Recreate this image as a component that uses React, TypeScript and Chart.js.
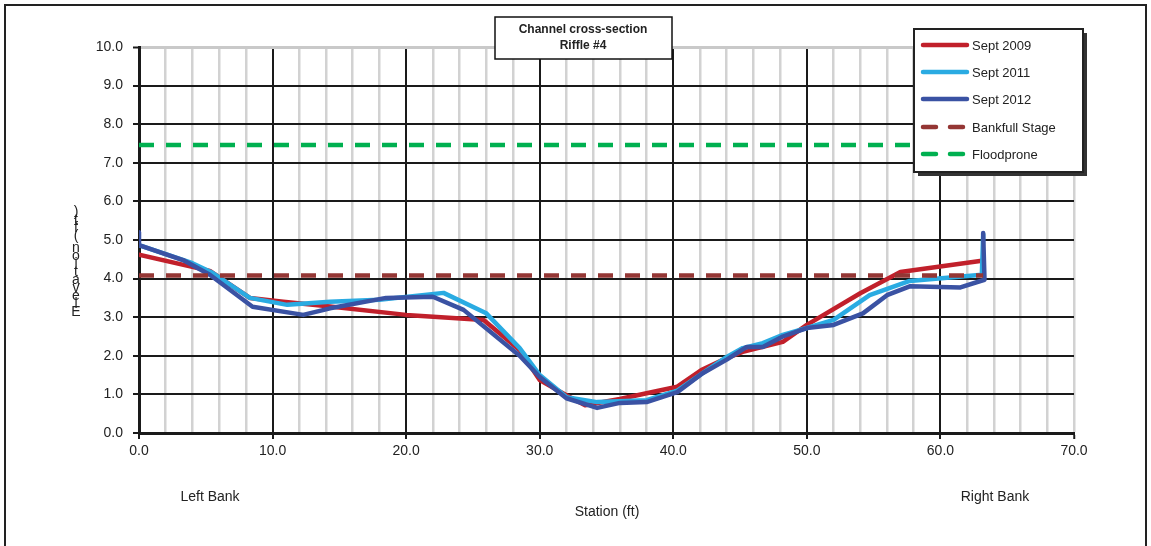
import React, { useEffect, useRef } from "react";
import { Chart, registerables } from "chart.js";

Chart.register(...registerables);

const seriesLabels = ["Sept 2009", "Sept 2011", "Sept 2012", "Bankfull Stage", "Floodprone"];

const station2009 = [0, 5.3, 8.3, 10.8, 14.3, 20, 25.8, 28.5, 30, 32, 33.4, 36, 38, 40.3, 42.1, 44, 45.2, 46.7, 48.2, 50, 54, 57, 63.1];
const elev2009 = [4.62, 4.2, 3.5, 3.4, 3.28, 3.06, 2.93, 2.15, 1.37, 0.98, 0.72, 0.88, 1.03, 1.2, 1.63, 1.94, 2.1, 2.23, 2.36, 2.8, 3.62, 4.17, 4.46];

const station2011 = [0, 4, 5.5, 8.3, 11.1, 14.3, 18, 22.8, 26, 28.5, 30, 32, 34.3, 38, 40.3, 42.2, 44, 45.2, 46.7, 48.2, 50, 52, 54.7, 57.7, 63.1, 63.2];
const elev2011 = [4.87, 4.4, 4.15, 3.5, 3.32, 3.4, 3.45, 3.63, 3.1, 2.2, 1.5, 0.93, 0.8, 0.85, 1.1, 1.55, 1.97, 2.2, 2.33, 2.54, 2.72, 2.93, 3.57, 3.94, 4.1, 5.15];

const station2012 = [0, 0, 3.3, 5.3, 8.5, 12.3, 14.3, 18.5, 22, 24.3, 28.5, 30, 32, 34.3, 36, 38, 40.3, 42.2, 44, 45.5, 46.7, 48.2, 50, 52, 54.2, 56, 57.7, 61.5, 63.3, 63.2];
const elev2012 = [5.2, 4.87, 4.48, 4.1, 3.27, 3.06, 3.23, 3.5, 3.53, 3.19, 2.0, 1.45, 0.9, 0.65, 0.78, 0.8, 1.06, 1.55, 1.9, 2.23, 2.23, 2.5, 2.72, 2.8, 3.1, 3.57, 3.8, 3.77, 3.97, 5.18];

const bankfullStation = [0, 63.2];
const bankfullElev = [4.08, 4.08];
const floodStation = [0, 63.2];
const floodElev = [7.46, 7.46];

const titleLines = ["Channel cross-section", "Riffle #4"];
const xAxisTitle = "Station (ft)";
const yAxisTitle = "Elevation (ft)";
const leftBankLabel = "Left Bank";
const rightBankLabel = "Right Bank";

const colors = ["#C1202B", "#2AABE2", "#3A52A3", "#943634", "#00B050"];

const FONT = "'Liberation Sans', Arial, sans-serif";

function pts(xs: number[], ys: number[]) {
  return xs.map((x, i) => ({ x, y: ys[i] }));
}

const extrasPlugin = {
  id: "extras",
  afterDraw(chart: any) {
    const ctx = chart.ctx as CanvasRenderingContext2D;
    ctx.save();
    // outer border
    ctx.strokeStyle = "#222";
    ctx.lineWidth = 2;
    ctx.strokeRect(5, 5, 1141, 560);

    // title box
    ctx.fillStyle = "#fff";
    ctx.fillRect(495, 17, 177, 42);
    ctx.strokeStyle = "#111";
    ctx.lineWidth = 1.5;
    ctx.strokeRect(495, 17, 177, 42);
    ctx.fillStyle = "#222";
    ctx.font = `bold 12px ${FONT}`;
    ctx.textAlign = "center";
    ctx.textBaseline = "middle";
    ctx.fillText(titleLines[0], 583, 30);
    ctx.fillText(titleLines[1], 583, 46);

    // legend
    const lx = 914, ly = 29, lw = 169, lh = 143;
    ctx.fillStyle = "#333";
    ctx.fillRect(lx + 4, ly + 4, lw, lh);
    ctx.fillStyle = "#fff";
    ctx.fillRect(lx, ly, lw, lh);
    ctx.strokeStyle = "#222";
    ctx.lineWidth = 2;
    ctx.strokeRect(lx, ly, lw, lh);
    const rows = [45, 72, 99, 127, 154];
    ctx.font = `13px ${FONT}`;
    ctx.textAlign = "left";
    seriesLabels.forEach((lab, i) => {
      ctx.strokeStyle = colors[i];
      ctx.lineWidth = 4.5;
      ctx.lineCap = "round";
      if (i >= 3) ctx.setLineDash([13, 14]);
      else ctx.setLineDash([]);
      ctx.beginPath();
      ctx.moveTo(923, rows[i]);
      ctx.lineTo(967, rows[i]);
      ctx.stroke();
      ctx.setLineDash([]);
      ctx.fillStyle = "#222";
      ctx.fillText(lab, 972, rows[i] + 1);
    });

    // bottom labels
    ctx.font = `14px ${FONT}`;
    ctx.fillStyle = "#222";
    ctx.textAlign = "center";
    ctx.fillText(leftBankLabel, 210, 497);
    ctx.fillText(rightBankLabel, 995, 497);
    ctx.fillText(xAxisTitle, 607, 512);

    // y axis title, stacked characters bottom to top
    ctx.font = `14px ${FONT}`;
    const chars = yAxisTitle.split("");
    let y = 312;
    chars.forEach((c) => {
      if (c !== " ") ctx.fillText(c, 76, y);
      y -= c === " " ? 4 : 8;
    });
    ctx.restore();
  },
};

export default function App() {
  const ref = useRef<HTMLCanvasElement>(null);
  useEffect(() => {
    if (!ref.current) return;
    const line = (label: string, data: any[], color: string, dash: number[] = []) => ({
      label,
      data,
      borderColor: color,
      backgroundColor: color,
      borderWidth: 4.5,
      borderDash: dash,
      borderCapStyle: dash.length ? "butt" : "round",
      borderJoinStyle: "round",
      showLine: true,
      pointRadius: 0,
      pointHoverRadius: 0,
      fill: false,
      tension: 0,
    });
    const chart = new Chart(ref.current, {
      type: "scatter",
      data: {
        datasets: [
          line(seriesLabels[0], pts(station2009, elev2009), colors[0]),
          line(seriesLabels[1], pts(station2011, elev2011), colors[1]),
          line(seriesLabels[2], pts(station2012, elev2012), colors[2]),
          line(seriesLabels[3], pts(bankfullStation, bankfullElev), colors[3], [15, 12]),
          line(seriesLabels[4], pts(floodStation, floodElev), colors[4], [15, 12]),
        ].map((d, i) => ({ ...d, order: 5 - i })) as any,
      },
      options: {
        responsive: false,
        animation: false,
        devicePixelRatio: 1,
        layout: { padding: { left: 0, top: 47, right: 77, bottom: 0 } },
        plugins: { legend: { display: false }, tooltip: { enabled: false }, title: { display: false } },
        scales: {
          x: {
            type: "linear",
            min: 0,
            max: 70,
            afterFit: (s: any) => { s.height = 113; },
            ticks: {
              stepSize: 2,
              autoSkip: false,
              maxRotation: 0,
              padding: 4,
              color: "#222",
              font: { family: FONT, size: 14 },
              callback: (v: any) => (Math.round(v) % 10 === 0 ? Number(v).toFixed(1) : ""),
            },
            grid: {
              color: (c: any) => (c.tick && c.tick.value % 10 === 0 && c.tick.value !== 70 ? "#1a1a1a" : "#d2d2d2"),
              lineWidth: (c: any) => (c.tick && c.tick.value % 10 === 0 && c.tick.value !== 70 ? 2 : 2.5),
              tickColor: (c: any) => (c.tick && c.tick.value % 10 === 0 ? "#1a1a1a" : "rgba(0,0,0,0)"),
              tickLength: 6,
              tickWidth: 2,
            },
            border: { display: true, color: "#1a1a1a", width: 3 },
          },
          y: {
            type: "linear",
            min: 0,
            max: 10,
            afterFit: (s: any) => { s.width = 139; },
            ticks: {
              stepSize: 1,
              padding: 10,
              color: "#222",
              font: { family: FONT, size: 14 },
              callback: (v: any) => Number(v).toFixed(1),
            },
            grid: {
              color: (c: any) => (c.tick && c.tick.value === 10 ? "#c9c9c9" : "#1a1a1a"),
              lineWidth: (c: any) => (c.tick && c.tick.value === 10 ? 3 : 2),
              tickColor: "#1a1a1a",
              tickLength: 6,
              tickWidth: 2,
            },
            border: { display: true, color: "#1a1a1a", width: 3 },
          },
        },
      } as any,
      plugins: [extrasPlugin],
    });
    return () => chart.destroy();
  }, []);
  return (
    <div style={{ position: "absolute", left: 0, top: 0, width: 1151, height: 546, background: "#fff" }}>
      <canvas ref={ref} width={1151} height={546} style={{ width: 1151, height: 546, display: "block" }} />
    </div>
  );
}
